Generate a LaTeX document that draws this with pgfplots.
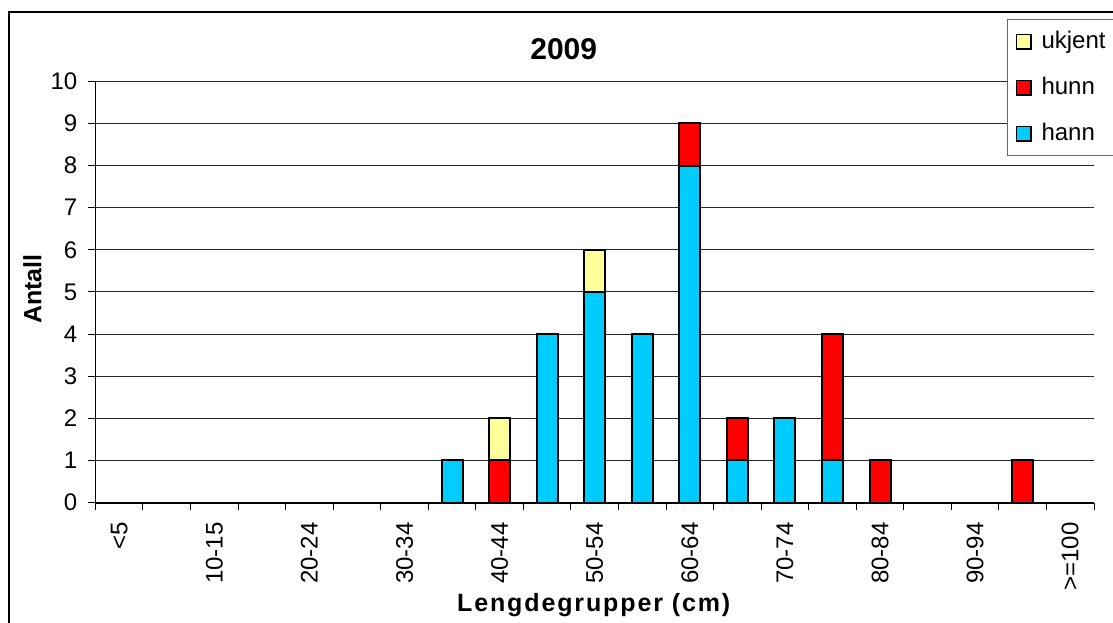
\documentclass[border=0pt]{standalone}
\usepackage{fontspec}
\setmainfont{Liberation Sans}
\usepackage{pgfplots}
\usepackage{pgfplotstable}
\pgfplotsset{compat=1.18}
\definecolor{hanncol}{HTML}{00CCFF}
\definecolor{hunncol}{HTML}{FF0000}
\definecolor{ukjentcol}{HTML}{FFFF99}

\pgfplotstableread{
x hann hunn ukjent
0 0 0 0
1 0 0 0
2 0 0 0
3 0 0 0
4 0 0 0
5 0 0 0
6 0 0 0
7 1 0 0
8 0 1 1
9 4 0 0
10 5 0 1
11 4 0 0
12 8 1 0
13 1 1 0
14 2 0 0
15 1 3 0
16 0 1 0
17 0 0 0
18 0 0 0
19 0 1 0
20 0 0 0
}\data

\begin{document}
\begin{tikzpicture}
\useasboundingbox (-47.7pt,-59.75pt) rectangle (508.8pt,251.25pt);
\begin{axis}[
  at={(0,0)}, anchor=south west,
  scale only axis, width=499.3pt, height=210.6pt,
  ybar stacked, bar width=10.5pt,
  xmin=-0.5, xmax=20.5, ymin=0, ymax=10,
  axis x line*=bottom, axis y line*=left,
  x axis line style={-, line width=1pt, black},
  y axis line style={-, line width=0.5pt, black},
  xtick={0,2,...,20},
  xticklabels={<5,10-15,20-24,30-34,40-44,50-54,60-64,70-74,80-84,90-94,>=100},
  minor xtick={-0.5,0.5,...,20.5},
  major x tick style={draw=none},
  minor x tick style={black, line width=0.5pt},
  ytick={0,1,...,10},
  y tick style={black, line width=0.5pt},
  tick align=outside, major tick length=3.5pt, minor tick length=3.5pt,
  ymajorgrids, grid style={black!85, line width=0.5pt},
  /pgf/number format/assume math mode=true,
  tick label style={font=\fontsize{12}{14}\selectfont},
  xticklabel style={rotate=90, anchor=east, xshift=-3pt},
  yticklabel style={xshift=-2pt},
  every axis title shift=0pt,
  title={2009},
  title style={at={(axis description cs:0.469,1.0767)}, anchor=center, font=\bfseries\fontsize{15}{18}\selectfont},
  ylabel={Antall},
  ylabel style={at={(axis description cs:-0.063,0.507)}, anchor=center, font=\bfseries\fontsize{12.5}{15}\selectfont},
  xlabel={\addfontfeature{LetterSpace=7.5}Lengdegrupper (cm)},
  xlabel style={at={(axis description cs:0.499,-0.2434)}, anchor=center, font=\bfseries\fontsize{12.5}{15}\selectfont},
  reverse legend,
  legend image code/.code={\draw[#1, draw=black, line width=0.8pt] (0pt,-3.6pt) rectangle (7.2pt,3.6pt);},
  legend style={at={(axis description cs:0.9129,1.1472)}, anchor=north west,
    draw=black!60, line width=0.5pt, fill=white,
    inner xsep=4pt, inner ysep=4.5pt, row sep=10pt,
    font=\fontsize{12}{14}\selectfont,
    nodes={inner xsep=5pt, inner ysep=1pt, text height=8.6pt, text depth=2.4pt, text width=50pt}},
  legend cell align=left,
]
\addplot[fill=hanncol, draw=black, line width=1pt] table[x=x, y=hann]{\data};
\addplot[fill=hunncol, draw=black, line width=1pt] table[x=x, y=hunn]{\data};
\addplot[fill=ukjentcol, draw=black, line width=1pt] table[x=x, y=ukjent]{\data};
\legend{hann,hunn,ukjent}
\end{axis}
\draw[black, line width=0.6pt] (-43.2pt,-80pt) -- (-43.2pt,245.25pt) -- (580pt,245.25pt);
\end{tikzpicture}
\end{document}
